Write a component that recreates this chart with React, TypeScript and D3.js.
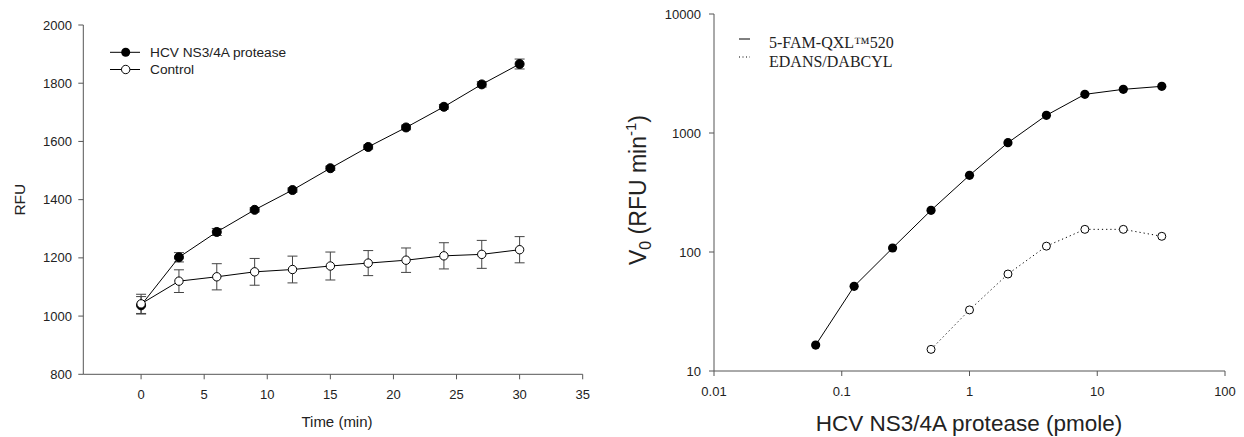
import React from "react";
import * as d3 from "d3";

// Left chart data
const times = [0, 3, 6, 9, 12, 15, 18, 21, 24, 27, 30];
const hcvRFU = [1037, 1202, 1289, 1365, 1433, 1508, 1581, 1648, 1719, 1796, 1866];
const hcvErr = [30, 16, 12, 7, 7, 7, 7, 8, 8, 9, 17];
const ctrlRFU = [1042, 1120, 1135, 1152, 1160, 1172, 1182, 1192, 1207, 1212, 1228];
const ctrlErr = [33, 39, 45, 46, 46, 48, 43, 42, 45, 48, 45];
const leftYTicks = [800, 1000, 1200, 1400, 1600, 1800, 2000];
const leftXTicks = [0, 5, 10, 15, 20, 25, 30, 35];

// Right chart data
const famPmole = [0.0625, 0.125, 0.25, 0.5, 1, 2, 4, 8, 16, 32];
const famV0 = [16.5, 51.5, 108, 224, 441, 829, 1409, 2113, 2328, 2467];
const edansPmole = [0.5, 1, 2, 4, 8, 16, 32];
const edansV0 = [15.2, 32.6, 65.3, 112, 155, 155, 135.5];
const rightXTicks = [0.01, 0.1, 1, 10, 100];
const rightYTicks = [10, 100, 1000, 10000];

const AX = "#555";
const SANS = "'Liberation Sans', Arial, sans-serif";
const SERIF = "'Liberation Serif', 'Times New Roman', serif";

export default function App() {
  // left scales
  const lx = d3.scaleLinear().domain([-4.58, 35]).range([83.3, 582.7]);
  const ly = d3.scaleLinear().domain([800, 2000]).range([374.3, 25]);
  const lline = d3
    .line<number>()
    .x((_, i) => lx(times[i]))
    .y((d) => ly(d));

  // right scales
  const rx = d3.scaleLog().domain([0.01, 100]).range([714, 1225]);
  const ry = d3.scaleLog().domain([10, 10000]).range([371, 14]);
  const famLine = d3
    .line<number>()
    .x((_, i) => rx(famPmole[i]))
    .y((d) => ry(d));
  const edLine = d3
    .line<number>()
    .x((_, i) => rx(edansPmole[i]))
    .y((d) => ry(d));

  const errBar = (t: number, v: number, e: number, key: string) => {
    const x = lx(t);
    return (
      <g key={key} stroke="#444" strokeWidth={1}>
        <line x1={x} x2={x} y1={ly(v - e)} y2={ly(v + e)} />
        <line x1={x - 5} x2={x + 5} y1={ly(v - e)} y2={ly(v - e)} />
        <line x1={x - 5} x2={x + 5} y1={ly(v + e)} y2={ly(v + e)} />
      </g>
    );
  };

  return (
    <svg width={1244} height={437} style={{ position: "absolute", left: 0, top: 0, background: "#fff" }}>
      <rect width={1244} height={437} fill="#fff" />
      {/* LEFT CHART */}
      <g fontFamily={SANS} fontSize={13} fill="#222">
        <line x1={83.3} x2={83.3} y1={ly(2000)} y2={ly(800)} stroke={AX} />
        <line x1={83.3} x2={582.7} y1={ly(800)} y2={ly(800)} stroke={AX} />
        {leftYTicks.map((t) => (
          <g key={"ly" + t}>
            <line x1={78.3} x2={83.3} y1={ly(t)} y2={ly(t)} stroke={AX} />
            <text x={72} y={ly(t)} dy="0.35em" textAnchor="end">
              {t}
            </text>
          </g>
        ))}
        {leftXTicks.map((t) => (
          <g key={"lx" + t}>
            <line x1={lx(t)} x2={lx(t)} y1={ly(800)} y2={ly(800) + 5} stroke={AX} />
            <text x={lx(t)} y={394} dy="0.35em" textAnchor="middle">
              {t}
            </text>
          </g>
        ))}
        <text x={337} y={427} textAnchor="middle" fontSize={15}>
          Time (min)
        </text>
        <text transform={`translate(25,${ly(1400)}) rotate(-90)`} textAnchor="middle" fontSize={15.5}>
          RFU
        </text>

        {/* error bars */}
        {times.map((t, i) => errBar(t, ctrlRFU[i], ctrlErr[i], "ce" + i))}
        {times.map((t, i) => errBar(t, hcvRFU[i], hcvErr[i], "he" + i))}

        <path d={lline(hcvRFU) || ""} fill="none" stroke="#000" strokeWidth={1} />
        <path d={lline(ctrlRFU) || ""} fill="none" stroke="#000" strokeWidth={1} />
        {times.map((t, i) => (
          <circle key={"hc" + i} cx={lx(t)} cy={ly(hcvRFU[i])} r={4.5} fill="#000" stroke="#000" />
        ))}
        {times.map((t, i) => (
          <circle key={"cc" + i} cx={lx(t)} cy={ly(ctrlRFU[i])} r={4.2} fill="#fff" stroke="#000" />
        ))}

        {/* legend */}
        <line x1={110} x2={140} y1={52.3} y2={52.3} stroke="#000" />
        <circle cx={125.7} cy={52.3} r={4.5} fill="#000" />
        <text x={150} y={52.3} dy="0.35em" fontSize={13.7}>HCV NS3/4A protease</text>
        <line x1={110} x2={140} y1={69.5} y2={69.5} stroke="#000" />
        <circle cx={125.7} cy={69.5} r={4.2} fill="#fff" stroke="#000" />
        <text x={150} y={69.5} dy="0.35em" fontSize={13.7}>Control</text>
      </g>

      {/* RIGHT CHART */}
      <g fontFamily={SANS} fontSize={13} fill="#222">
        <line x1={714} x2={714} y1={14} y2={371} stroke={AX} />
        <line x1={714} x2={1225} y1={371} y2={371} stroke={AX} />
        {rightYTicks.map((t) => (
          <g key={"ry" + t}>
            <line x1={709} x2={714} y1={ry(t)} y2={ry(t)} stroke={AX} />
            <text x={701} y={ry(t)} dy="0.35em" textAnchor="end">
              {t}
            </text>
          </g>
        ))}
        {rightXTicks.map((t) => (
          <g key={"rx" + t}>
            <line x1={rx(t)} x2={rx(t)} y1={371} y2={376} stroke={AX} />
            <text x={rx(t)} y={391} dy="0.35em" textAnchor="middle">
              {t}
            </text>
          </g>
        ))}
        <text x={969} y={431} textAnchor="middle" fontSize={22.5}>
          HCV NS3/4A protease (pmole)
        </text>
        <text transform={`translate(646,190) rotate(-90)`} textAnchor="middle" fontSize={23}>
          <tspan>V</tspan>
          <tspan fontSize={16} dy={5}>0</tspan>
          <tspan dy={-5}> (RFU min</tspan>
          <tspan fontSize={15} dy={-10}>-1</tspan>
          <tspan dy={10}>)</tspan>
        </text>

        <path d={famLine(famV0) || ""} fill="none" stroke="#000" strokeWidth={1} />
        <path d={edLine(edansV0) || ""} fill="none" stroke="#000" strokeWidth={1} strokeDasharray="1.2,3" />
        {famPmole.map((p, i) => (
          <circle key={"fp" + i} cx={rx(p)} cy={ry(famV0[i])} r={4.6} fill="#000" />
        ))}
        {edansPmole.map((p, i) => (
          <circle key={"ep" + i} cx={rx(p)} cy={ry(edansV0[i])} r={4} fill="#fff" stroke="#000" />
        ))}

        {/* legend */}
        <line x1={739} x2={750} y1={39} y2={39} stroke="#000" />
        <line x1={739} x2={750} y1={57} y2={57} stroke="#000" strokeDasharray="1,2.5" />
        <text x={769} y={42.5} dy="0.35em" fontFamily={SERIF} fontSize={16}>
          5-FAM-QXL™520
        </text>
        <text x={769} y={61} dy="0.35em" fontFamily={SERIF} fontSize={16}>
          EDANS/DABCYL
        </text>
      </g>
    </svg>
  );
}
